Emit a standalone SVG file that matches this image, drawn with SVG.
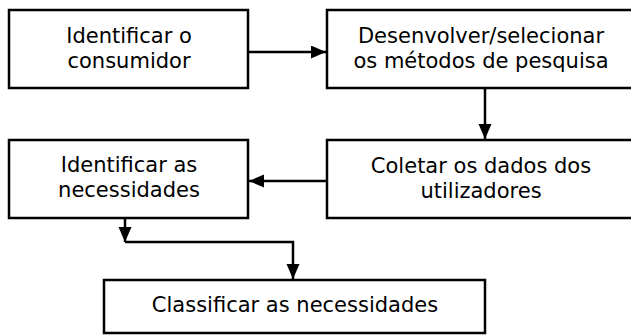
<svg xmlns="http://www.w3.org/2000/svg" width="631" height="335" viewBox="0 0 631 335">
<style>
.box{fill:#fff;stroke:#000;stroke-width:2.5}
.t{font-family:"DejaVu Sans",Verdana,sans-serif;font-size:21px;fill:#000;text-anchor:middle}
.c{fill:none;stroke:#000;stroke-width:2.5}
</style>
<defs>
<marker id="ah" markerUnits="userSpaceOnUse" markerWidth="16" markerHeight="14" refX="15" refY="6.5" orient="auto">
<path d="M0,0 L15,6.5 L0,13 Z" fill="#000"/>
</marker>
</defs>
<rect width="631" height="335" fill="#fff"/>
<g id="n1">
<rect class="box" x="9" y="10" width="239" height="78"/>
<text class="t" x="129" y="43">Identificar o</text>
<text class="t" x="129" y="68">consumidor</text>
</g>
<g id="n2">
<rect class="box" x="327" y="10" width="308" height="78"/>
<text class="t" x="481" y="43">Desenvolver/selecionar</text>
<text class="t" x="481" y="68">os métodos de pesquisa</text>
</g>
<g id="n3">
<rect class="box" x="327" y="140" width="308" height="78"/>
<text class="t" x="481" y="173">Coletar os dados dos</text>
<text class="t" x="481" y="198">utilizadores</text>
</g>
<g id="n4">
<rect class="box" x="9" y="140" width="239" height="78"/>
<text class="t" x="129" y="172">Identificar as</text>
<text class="t" x="129" y="197">necessidades</text>
</g>
<g id="n5">
<rect class="box" x="104" y="280" width="381" height="53"/>
<text class="t" x="295" y="312">Classificar as necessidades</text>
</g>
<g id="connectors">
<path class="c" d="M248,52 H326" marker-end="url(#ah)"/>
<path class="c" d="M485,88 V139" marker-end="url(#ah)"/>
<path class="c" d="M327,181 H249" marker-end="url(#ah)"/>
<path class="c" d="M125,218 V242" marker-end="url(#ah)"/>
<path class="c" d="M125,242 H293 V279" marker-end="url(#ah)"/>
</g>
</svg>
